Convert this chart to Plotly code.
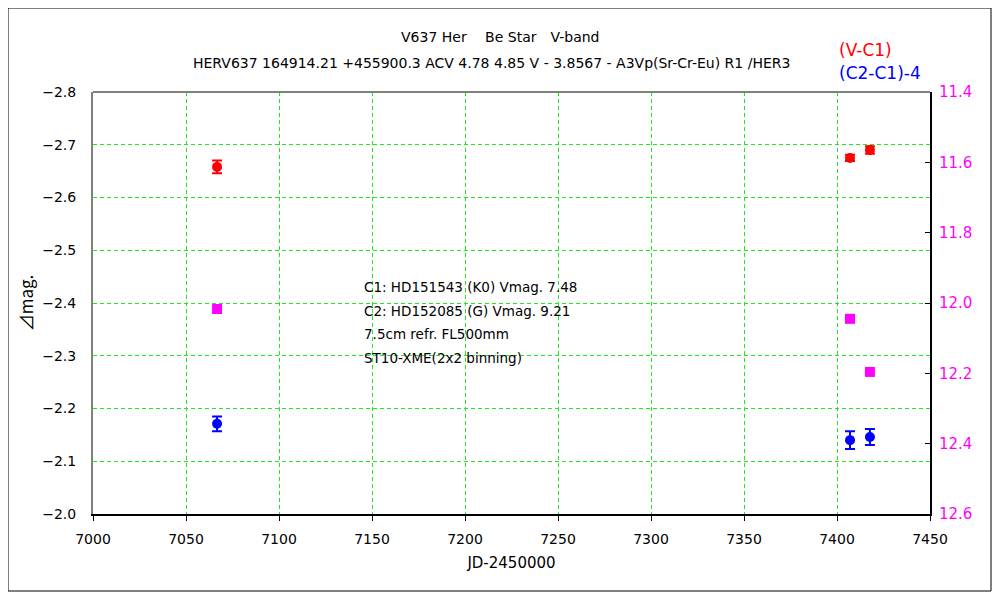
import plotly.graph_objects as go

# V-C1 (left axis)
jd_vc1 = [7066.7, 7407.0, 7417.7]
mag_vc1 = [-2.658, -2.675, -2.690]
err_vc1 = [0.012, 0.006, 0.007]

# (C2-C1)-4 (left axis)
jd_cc = [7066.7, 7407.0, 7417.7]
mag_cc = [-2.171, -2.140, -2.146]
err_cc = [0.014, 0.017, 0.015]

# V magnitude (right axis)
jd_v = [7066.7, 7407.0, 7417.7]
mag_v = [12.017, 12.045, 12.196]

title1 = "V637 Her　 Be Star　V-band"
title2 = "HERV637 164914.21 +455900.3 ACV 4.78 4.85 V - 3.8567 - A3Vp(Sr-Cr-Eu) R1 /HER3"
note_lines = ["C1: HD151543 (K0) Vmag. 7.48",
              "C2: HD152085 (G) Vmag. 9.21",
              "7.5cm refr. FL500mm",
              "ST10-XME(2x2 binning)"]

FONT = "DejaVu Sans"
GRID = "#22e622"

# plot area in figure pixels (page is offset by 8px body margin)
L, T, R, B = 85, 84, 922, 506
PW, PH = R - L, B - T


def px(x):
    return (x - 8 - L) / PW


def py(y):
    return (B - (y - 8)) / PH


fig = go.Figure()
fig.add_trace(go.Scatter(x=jd_vc1, y=mag_vc1, mode='markers', name='(V-C1)',
                         marker=dict(size=10, color='#ff0000', symbol='circle'),
                         error_y=dict(type='data', array=err_vc1, color='#ff0000', thickness=2, width=5)))
fig.add_trace(go.Scatter(x=jd_cc, y=mag_cc, mode='markers', name='(C2-C1)-4',
                         marker=dict(size=10, color='#0000ff', symbol='circle'),
                         error_y=dict(type='data', array=err_cc, color='#0000ff', thickness=2, width=5)))
fig.add_trace(go.Scatter(x=jd_v, y=mag_v, mode='markers', name='V', yaxis='y2',
                         marker=dict(size=10, color='#ff00ff', symbol='square')))

fig.update_layout(
    width=1000, height=600, showlegend=False,
    paper_bgcolor='white', plot_bgcolor='white',
    margin=dict(l=L, r=1000 - R, t=T, b=600 - B),
    font=dict(family=FONT, size=14, color='black'),
    xaxis=dict(range=[7000, 7450], dtick=50, tick0=7000, showgrid=True, gridcolor=GRID,
               griddash='4px,3px', gridwidth=1, showline=True, linecolor='black', linewidth=2,
               ticks='outside', ticklen=5, tickcolor='black', zeroline=False, ticklabelstandoff=6,
               title=dict(text='JD-2450000', standoff=12, font=dict(size=15))),
    yaxis=dict(range=[-2.0, -2.8], dtick=0.1, tick0=-2.0, tickformat='.1f', showgrid=True,
               gridcolor=GRID, griddash='4px,3px', gridwidth=1, showline=True, linecolor='#808080',
               linewidth=2, ticks='', zeroline=False, ticklabelstandoff=12,
               title=dict(text='⊿mag.', standoff=4, font=dict(family='Noto Sans CJK JP', size=17))),
    yaxis2=dict(range=[12.6, 11.4], dtick=0.2, tick0=11.4, tickformat='.1f', overlaying='y',
                side='right', showgrid=False, showline=True, linecolor='black', linewidth=2,
                ticks='inside', ticklen=5, tickcolor='black', zeroline=False, ticklabelstandoff=4,
                tickfont=dict(color='#ff00ff', size=15)),
)

# top frame line of the plot area
fig.add_shape(type='line', xref='paper', yref='paper', x0=0, x1=1, y0=1, y1=1,
              line=dict(color='#808080', width=2))
# outer border
fig.add_shape(type='rect', xref='paper', yref='paper', x0=px(8), x1=px(991), y0=py(591), y1=py(8),
              line=dict(color='black', width=1))

fig.add_annotation(text=title1, xref='paper', yref='paper', x=px(500), y=py(37),
                   showarrow=False, xanchor='center', yanchor='middle', font=dict(size=14))
fig.add_annotation(text=title2, xref='paper', yref='paper', x=px(491), y=py(63),
                   showarrow=False, xanchor='center', yanchor='middle', font=dict(size=14))
fig.add_annotation(text='(V-C1)', xref='paper', yref='paper', x=px(837), y=py(50),
                   showarrow=False, xanchor='left', yanchor='middle', font=dict(size=17, color='#ff0000'))
fig.add_annotation(text='(C2-C1)-4', xref='paper', yref='paper', x=px(837), y=py(73),
                   showarrow=False, xanchor='left', yanchor='middle', font=dict(size=17, color='#0000ff'))
for i, line in enumerate(note_lines):
    fig.add_annotation(text=line, xref='paper', yref='paper', x=px(362), y=py(287 + 23.7 * i),
                       showarrow=False, xanchor='left', yanchor='middle', font=dict(size=13.5))

fig.write_html("out.html")
